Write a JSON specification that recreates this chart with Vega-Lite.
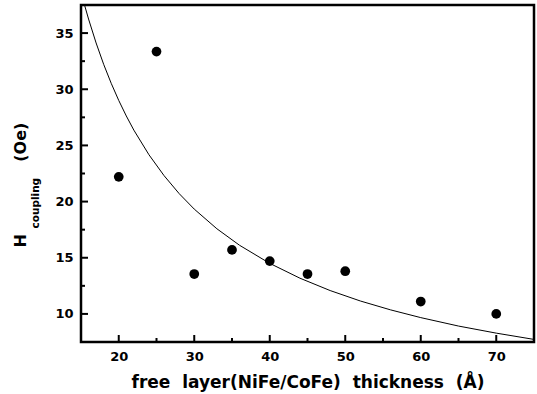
{
  "$schema": "https://vega.github.io/schema/vega-lite/v6.json",
  "width": 453,
  "height": 337,
  "autosize": {"type": "none"},
  "padding": {"left": 81, "top": 5, "right": 3, "bottom": 52},
  "background": "white",
  "config": {
    "view": {"stroke": "black", "strokeWidth": 2.5},
    "axis": {
      "grid": false,
      "labelFont": "DejaVu Sans",
      "labelFontWeight": "bold",
      "labelFontSize": 13,
      "labelColor": "black",
      "titleFont": "DejaVu Sans",
      "titleColor": "black",
      "titleFontWeight": "bold"
    }
  },
  "datasets": {
    "points": [
      {"thickness": 20, "hc": 22.2},
      {"thickness": 25, "hc": 33.35},
      {"thickness": 30, "hc": 13.55},
      {"thickness": 35, "hc": 15.7},
      {"thickness": 40, "hc": 14.7},
      {"thickness": 45, "hc": 13.55},
      {"thickness": 50, "hc": 13.8},
      {"thickness": 60, "hc": 11.1},
      {"thickness": 70, "hc": 10.0}
    ],
    "fit": [
      {"thickness": 15.4, "hc": 37.66},
      {"thickness": 16, "hc": 36.25},
      {"thickness": 17, "hc": 34.12},
      {"thickness": 18, "hc": 32.22},
      {"thickness": 19, "hc": 30.53},
      {"thickness": 20, "hc": 29.0},
      {"thickness": 21, "hc": 27.62},
      {"thickness": 22, "hc": 26.36},
      {"thickness": 24, "hc": 24.17},
      {"thickness": 26, "hc": 22.31},
      {"thickness": 28, "hc": 20.71},
      {"thickness": 30, "hc": 19.33},
      {"thickness": 33, "hc": 17.58},
      {"thickness": 36, "hc": 16.11},
      {"thickness": 40, "hc": 14.5},
      {"thickness": 44, "hc": 13.18},
      {"thickness": 48, "hc": 12.08},
      {"thickness": 52, "hc": 11.15},
      {"thickness": 56, "hc": 10.36},
      {"thickness": 60, "hc": 9.67},
      {"thickness": 65, "hc": 8.92},
      {"thickness": 70, "hc": 8.29},
      {"thickness": 75, "hc": 7.73}
    ],
    "xmajor": [{"t": 20}, {"t": 30}, {"t": 40}, {"t": 50}, {"t": 60}, {"t": 70}],
    "xminor": [{"t": 25}, {"t": 35}, {"t": 45}, {"t": 55}, {"t": 65}],
    "ymajor": [{"t": 10}, {"t": 15}, {"t": 20}, {"t": 25}, {"t": 30}, {"t": 35}],
    "yminor": [{"t": 12.5}, {"t": 17.5}, {"t": 22.5}, {"t": 27.5}, {"t": 32.5}]
  },
  "layer": [
    {
      "data": {"name": "fit"},
      "mark": {"type": "line", "color": "black", "strokeWidth": 1, "clip": true},
      "encoding": {
        "x": {
          "field": "thickness", "type": "quantitative",
          "scale": {"domain": [15, 75], "nice": false, "zero": false},
          "axis": {
            "orient": "bottom",
            "offset": -7,
            "domain": false,
            "values": [20, 30, 40, 50, 60, 70],
            "tickSize": 7, "tickWidth": 2, "tickOpacity": 0,
            "labelPadding": 8,
            "title": "free\u00a0 layer(NiFe/CoFe)\u00a0 thickness\u00a0 (Å)",
            "titleFontSize": 17,
            "titleY": 52,
            "titleBaseline": "alphabetic"
          }
        },
        "y": {
          "field": "hc", "type": "quantitative",
          "scale": {"domain": [7.5, 37.5], "nice": false, "zero": false},
          "axis": {
            "orient": "left",
            "offset": -7,
            "domain": false,
            "values": [10, 15, 20, 25, 30, 35],
            "tickSize": 7, "tickWidth": 2, "tickOpacity": 0,
            "labelPadding": 8,
            "title": "H\u00a0\u00a0\u00a0\u00a0\u00a0\u00a0\u00a0\u00a0\u00a0\u00a0\u00a0\u00a0\u00a0(Oe)",
            "titleFontSize": 16,
            "titleAngle": -90,
            "titleAlign": "left",
            "titleBaseline": "alphabetic",
            "titleX": -63,
            "titleY": 242
          }
        }
      }
    },
    {
      "data": {"name": "points"},
      "mark": {"type": "circle", "color": "black", "opacity": 1, "size": 95},
      "encoding": {
        "x": {
          "field": "thickness", "type": "quantitative",
          "scale": {"domain": [15, 75], "nice": false, "zero": false},
          "axis": null
        },
        "y": {
          "field": "hc", "type": "quantitative",
          "scale": {"domain": [7.5, 37.5], "nice": false, "zero": false},
          "axis": {
            "orient": "left",
            "domain": false,
            "ticks": false,
            "labels": false,
            "title": "coupling",
            "titleFontSize": 10.5,
            "titleAngle": -90,
            "titleAlign": "left",
            "titleBaseline": "alphabetic",
            "titleX": -43,
            "titleY": 223
          }
        }
      }
    },
    {
      "data": {"name": "xmajor"},
      "mark": {"type": "tick", "orient": "vertical", "color": "black", "thickness": 2, "size": 14, "clip": true, "opacity": 1},
      "encoding": {
        "x": {"field": "t", "type": "quantitative", "scale": {"domain": [15, 75], "nice": false, "zero": false}, "axis": null},
        "y": {"datum": 7.5, "type": "quantitative", "scale": {"domain": [7.5, 37.5], "nice": false, "zero": false}, "axis": null}
      }
    },
    {
      "data": {"name": "xminor"},
      "mark": {"type": "tick", "orient": "vertical", "color": "black", "thickness": 2, "size": 8, "clip": true, "opacity": 1},
      "encoding": {
        "x": {"field": "t", "type": "quantitative", "scale": {"domain": [15, 75], "nice": false, "zero": false}, "axis": null},
        "y": {"datum": 7.5, "type": "quantitative", "scale": {"domain": [7.5, 37.5], "nice": false, "zero": false}, "axis": null}
      }
    },
    {
      "data": {"name": "ymajor"},
      "mark": {"type": "tick", "orient": "horizontal", "color": "black", "thickness": 2, "size": 14, "clip": true, "opacity": 1},
      "encoding": {
        "y": {"field": "t", "type": "quantitative", "scale": {"domain": [7.5, 37.5], "nice": false, "zero": false}, "axis": null},
        "x": {"datum": 15, "type": "quantitative", "scale": {"domain": [15, 75], "nice": false, "zero": false}, "axis": null}
      }
    },
    {
      "data": {"name": "yminor"},
      "mark": {"type": "tick", "orient": "horizontal", "color": "black", "thickness": 2, "size": 8, "clip": true, "opacity": 1},
      "encoding": {
        "y": {"field": "t", "type": "quantitative", "scale": {"domain": [7.5, 37.5], "nice": false, "zero": false}, "axis": null},
        "x": {"datum": 15, "type": "quantitative", "scale": {"domain": [15, 75], "nice": false, "zero": false}, "axis": null}
      }
    }
  ],
  "resolve": {"axis": {"x": "independent", "y": "independent"}}
}
